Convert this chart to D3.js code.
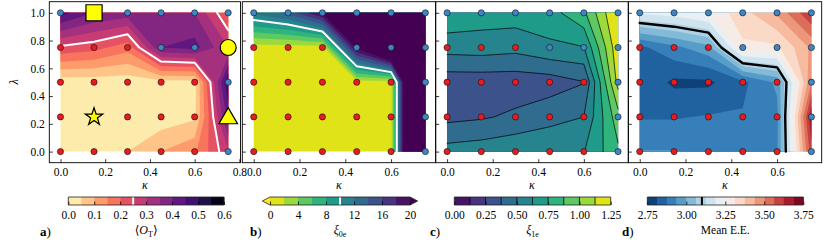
<!DOCTYPE html>
<html><head><meta charset="utf-8">
<script src="https://cdn.jsdelivr.net/npm/d3@7/dist/d3.min.js"></script>
<style>
body{margin:0;background:#fff}
svg{display:block}
text{font-family:"Liberation Serif","DejaVu Serif",serif;fill:#000}
</style></head><body>
<svg id="chart" width="830" height="244"></svg>
<script>
// ---------------- data ----------------
const kappa = [0, 0.15, 0.3, 0.45, 0.6, 0.75];
const lambda = [0, 0.25, 0.5, 0.75, 1.0];
// rows: lambda = 0, 0.25, 0.5, 0.75, 1.0 ; columns: kappa
const meanOT = [
  [0.00, 0.00, 0.05, 0.10, 0.14, 0.29],
  [0.00, 0.00, 0.00, 0.02, 0.04, 0.42],
  [0.02, 0.02, 0.02, 0.03, 0.03, 0.50],
  [0.24, 0.22, 0.17, 0.40, 0.42, 0.30],
  [0.47, 0.40, 0.38, 0.36, 0.35, 0.20]
];
const xi0e = [
  [1, 1, 1, 1, 1, 55],
  [1, 1, 1, 1, 1, 55],
  [1, 1, 1, 1, 1, 55],
  [1, 1, 1, 20.7, 32, 50],
  [12.4, 14.6, 20.5, 40, 50, 55]
];
const xi1e = [
  [0.55, 0.57, 0.60, 0.60, 0.62, 0.85],
  [0.34, 0.36, 0.40, 0.46, 0.50, 0.95],
  [0.30, 0.30, 0.30, 0.31, 0.37, 1.17],
  [0.55, 0.56, 0.54, 0.60, 0.62, 1.22],
  [0.73, 0.69, 0.69, 0.70, 0.85, 1.28]
];
const meanEE = [
  [2.94, 2.94, 2.93, 2.92, 2.93, 3.60],
  [2.87, 2.87, 2.88, 2.88, 2.92, 3.68],
  [2.86, 2.80, 2.80, 2.86, 2.95, 3.50],
  [2.86, 2.92, 2.98, 3.30, 3.30, 3.45],
  [3.20, 3.22, 3.26, 3.35, 3.45, 3.62]
];
const pointClass = [
  ['r','r','r','r','r','b'],
  ['r','r','r','r','r','b'],
  ['r','r','r','r','r','b'],
  ['r','r','r','b','b','b'],
  ['b','b','b','b','b','b']
];
const markerKappa  = [0.15, 0.15, 0.75, 0.75];
const markerLambda = [0.25, 1.0, 0.75, 0.25];
const markerShape  = ['star', 'square', 'circle', 'triangle'];

const levelsOT  = [0, 0.05, 0.1, 0.15, 0.2, 0.25, 0.3, 0.35, 0.4, 0.45, 0.5, 0.55, 0.6];
const levelsXi0 = [0, 2, 4, 6, 8, 10, 12, 14, 16, 18, 20];
const levelsXi1 = [0, 0.125, 0.25, 0.375, 0.5, 0.625, 0.75, 0.875, 1.0, 1.125, 1.25];
const levelsEE  = [2.75, 2.8125, 2.875, 2.9375, 3.0, 3.0625, 3.125, 3.1875, 3.25,
                   3.3125, 3.375, 3.4375, 3.5, 3.5625, 3.625, 3.6875, 3.75];
const ticksOT  = [0, 0.1, 0.2, 0.3, 0.4, 0.5, 0.6];
const ticksXi0 = [0, 4, 8, 12, 16, 20];
const ticksXi1 = [0, 0.25, 0.5, 0.75, 1.0, 1.25];
const ticksEE  = [2.75, 3.0, 3.25, 3.5, 3.75];
const ticksKappaA = [0, 0.2, 0.4, 0.6, 0.8];
const ticksKappa  = [0, 0.2, 0.4, 0.6];
const ticksLambda = [0, 0.2, 0.4, 0.6, 0.8, 1.0];

// ---------------- drawing ----------------
const svg = d3.select('#chart');
const FONT = '"Liberation Serif","DejaVu Serif",serif';
const Y0 = 162.7, Y1 = 1.7;
const y = d3.scaleLinear().domain([-0.08, 1.08]).range([Y0, Y1]);
const n = kappa.length, m = lambda.length;
const ui = d3.scaleLinear().domain(d3.range(n)).range(kappa);
const vj = d3.scaleLinear().domain(d3.range(m)).range(lambda);
const cu = u => Math.max(0, Math.min(n - 1, u - 0.5));
const cv = v => Math.max(0, Math.min(m - 1, v - 0.5));
const RED = '#ea1a1f', BLUE = '#3f86c6';

function flatten(vals) { const f = []; for (let j = 0; j < m; j++) for (let i = 0; i < n; i++) f.push(vals[j][i]); return f; }

function isoPath(flat, level, x) {
  const c = d3.contours().size([n, m]).contour(flat, level);
  const P = p => [x(ui(p[0])), y(vj(p[1]))];
  let d = '';
  for (const poly of c.coordinates) for (const ring of poly) {
    const pts = ring.map(([px, py]) => [cu(px), cv(py)]);
    const L = pts.length - 1;
    const border = [];
    for (let k = 0; k < L; k++) {
      const a = pts[k], b = pts[k + 1];
      border.push((a[0] === 0 && b[0] === 0) || (a[0] === n - 1 && b[0] === n - 1) ||
                  (a[1] === 0 && b[1] === 0) || (a[1] === m - 1 && b[1] === m - 1));
    }
    let s = border.indexOf(true);
    if (s < 0) {
      d += 'M' + pts.slice(0, L).map(p => P(p).join(',')).join('L') + 'Z';
      continue;
    }
    let cur = [];
    for (let t = 1; t <= L; t++) {
      const k = (s + t) % L;
      if (border[k]) { if (cur.length > 1) d += 'M' + cur.map(p => P(p).join(',')).join('L'); cur = []; }
      else { if (!cur.length) cur.push(pts[k]); cur.push(pts[k + 1]); }
    }
    if (cur.length > 1) d += 'M' + cur.map(p => P(p).join(',')).join('L');
  }
  return d;
}

function styleAxis(a) {
  a.attr('font-family', null).attr('font-size', null);
  a.select('.domain').remove();
  a.selectAll('line').attr('stroke-width', 0.8);
  a.selectAll('text').style('font-size', '11.5px').style('font-family', FONT);
}

function panel(cfg) {
  const x = d3.scaleLinear().domain(cfg.dom).range([cfg.x0, cfg.x1]);
  const g = svg.append('g');
  const flat = flatten(cfg.vals);
  const proj = d3.geoTransform({ point(px, py) { this.stream.point(x(ui(cu(px))), y(vj(cv(py)))); } });
  const path = d3.geoPath(proj);
  const cs = d3.contours().size([n, m]).thresholds(cfg.thresholds)(flat);
  g.append('g').selectAll('path').data(cs).join('path')
    .attr('d', path).attr('fill', (d, k) => cfg.colors[k]);
  for (const ln of cfg.lines) {
    g.append('path').attr('d', isoPath(flat, ln.v, x)).attr('fill', 'none')
      .attr('stroke', ln.c).attr('stroke-width', ln.w).attr('stroke-linejoin', 'round').attr('stroke-linecap', 'round');
  }
  // axes (inward ticks)
  const ax = g.append('g').attr('transform', `translate(0,${Y0})`)
    .call(d3.axisBottom(x).tickValues(cfg.xticks).tickFormat(d3.format('.1f')).tickSizeInner(-3.5).tickSizeOuter(0).tickPadding(5.5));
  styleAxis(ax);
  const ay = g.append('g').attr('transform', `translate(${cfg.x0},0)`)
    .call(d3.axisLeft(y).tickValues(ticksLambda).tickFormat(d3.format('.1f')).tickSizeInner(-3.5).tickSizeOuter(0).tickPadding(4.5));
  styleAxis(ay);
  if (!cfg.ylabels) ay.selectAll('text').remove();
  g.append('rect').attr('x', cfg.x0).attr('y', Y1).attr('width', cfg.x1 - cfg.x0).attr('height', Y0 - Y1)
    .attr('fill', 'none').attr('stroke', '#000').attr('stroke-width', 0.9);
  g.append('text').attr('x', (cfg.x0 + cfg.x1) / 2).attr('y', 189).attr('text-anchor', 'middle')
    .style('font-size', '12px').style('font-style', 'italic').text('κ');
  // points
  const pts = [];
  for (let j = 0; j < m; j++) for (let i = 0; i < n; i++) pts.push({ k: kappa[i], l: lambda[j], c: pointClass[j][i] });
  g.append('g').selectAll('circle').data(pts).join('circle')
    .attr('cx', d => x(d.k)).attr('cy', d => y(d.l)).attr('r', 3.1)
    .attr('fill', d => d.c === 'r' ? RED : BLUE).attr('stroke', '#111').attr('stroke-width', 0.6);
  return { g, x };
}

function colorbar(cfg) {
  const yb0 = 197, yb1 = 205;
  const s = d3.scaleLinear().domain([cfg.levels[0], cfg.levels[cfg.levels.length - 1]]).range([cfg.x0, cfg.x1]);
  const g = svg.append('g');
  const bins = d3.range(cfg.levels.length - 1);
  g.selectAll('rect.bin').data(bins).join('rect')
    .attr('x', i => s(cfg.levels[i])).attr('width', i => s(cfg.levels[i + 1]) - s(cfg.levels[i]) + 0.3)
    .attr('y', yb0).attr('height', yb1 - yb0).attr('fill', i => cfg.colors[i]);
  let outline;
  if (cfg.extend) {
    const e = (cfg.x1 - cfg.x0) * 0.055;
    g.append('path').attr('d', `M${cfg.x0},${yb0}L${cfg.x0 - e},${(yb0 + yb1) / 2}L${cfg.x0},${yb1}Z`).attr('fill', cfg.under);
    g.append('path').attr('d', `M${cfg.x1},${yb0}L${cfg.x1 + e},${(yb0 + yb1) / 2}L${cfg.x1},${yb1}Z`).attr('fill', cfg.over);
    outline = `M${cfg.x0},${yb0}L${cfg.x1},${yb0}L${cfg.x1 + e},${(yb0 + yb1) / 2}L${cfg.x1},${yb1}L${cfg.x0},${yb1}L${cfg.x0 - e},${(yb0 + yb1) / 2}Z`;
  } else {
    outline = `M${cfg.x0},${yb0}H${cfg.x1}V${yb1}H${cfg.x0}Z`;
  }
  for (const ln of cfg.lines) {
    for (const v of ln.v) {
      g.append('line').attr('x1', s(v)).attr('x2', s(v)).attr('y1', yb0).attr('y2', yb1)
        .attr('stroke', ln.c).attr('stroke-width', ln.w);
    }
  }
  const ax = g.append('g').attr('transform', `translate(0,${yb1})`)
    .call(d3.axisBottom(s).tickValues(cfg.ticks).tickFormat(cfg.fmt).tickSizeInner(-3.5).tickSizeOuter(0).tickPadding(5.5));
  styleAxis(ax);
  g.append('path').attr('d', outline).attr('fill', 'none').attr('stroke', '#222').attr('stroke-width', 0.8);
  return { g, cx: (cfg.x0 + cfg.x1) / 2 };
}

// colours
const colOT  = d3.range(levelsOT.length - 1).map(i => d3.interpolateMagma(1 - (i + 0.5) / (levelsOT.length - 1)));
const colXi0 = d3.range(levelsXi0.length - 1).map(i => d3.interpolateViridis(1 - (i + 0.5) / (levelsXi0.length - 1)));
const overXi0 = d3.interpolateViridis(0), underXi0 = d3.interpolateViridis(1);
const colXi1 = d3.range(levelsXi1.length - 1).map(i => d3.interpolateViridis((i + 0.5) / (levelsXi1.length - 1)));
const colEE  = d3.range(levelsEE.length - 1).map(i => d3.interpolateRdBu(1 - (i + 0.5) / (levelsEE.length - 1)));

// panel a
const pa = panel({ x0: 49.3, x1: 240.5, dom: [-0.05, 0.805], vals: meanOT, thresholds: levelsOT.slice(0, -1), colors: colOT,
  lines: [{ v: 0.25, c: '#fff', w: 2 }], xticks: ticksKappaA, ylabels: true });
// markers
const sym = { star: d3.symbolStar, square: d3.symbolSquare, circle: d3.symbolCircle, triangle: d3.symbolTriangle };
const symSize = { star: 95, square: 260, circle: 200, triangle: 150 };
pa.g.append('g').selectAll('path').data(markerShape).join('path')
  .attr('transform', (d, i) => `translate(${pa.x(markerKappa[i])},${y(markerLambda[i]) + (d === 'triangle' ? 1.5 : 0)})`)
  .attr('d', d => d3.symbol(sym[d], symSize[d])())
  .attr('fill', '#ffff00').attr('stroke', '#000').attr('stroke-width', 1.2);

panel({ x0: 242.3, x1: 435.7, dom: [-0.05, 0.795], vals: xi0e, thresholds: levelsXi0, colors: colXi0.concat([overXi0]),
  lines: [{ v: 10, c: '#fff', w: 2 }], xticks: ticksKappa });
panel({ x0: 435.7, x1: 628.3, dom: [-0.05, 0.795], vals: xi1e, thresholds: levelsXi1.slice(0, -1), colors: colXi1,
  lines: levelsXi1.slice(1, -1).map(v => ({ v, c: '#000', w: 0.7 })), xticks: ticksKappa });
panel({ x0: 628.3, x1: 821.7, dom: [-0.05, 0.795], vals: meanEE, thresholds: levelsEE.slice(0, -1), colors: colEE,
  lines: [{ v: 3.1, c: '#000', w: 2.4 }], xticks: ticksKappa });

// y label
svg.append('text').attr('transform', 'translate(18,82) rotate(-90)').attr('text-anchor', 'middle')
  .style('font-size', '12px').style('font-style', 'italic').text('λ');

// colorbars
const cba = colorbar({ x0: 68.3, x1: 224, levels: levelsOT, colors: colOT, ticks: ticksOT, fmt: d3.format('.1f'),
  lines: [{ v: [0.25], c: '#fff', w: 2 }] });
const cbb = colorbar({ x0: 270, x1: 410, levels: levelsXi0, colors: colXi0, ticks: ticksXi0, fmt: d3.format('d'),
  extend: true, under: underXi0, over: overXi0, lines: [{ v: [10], c: '#fff', w: 2 }] });
const cbc = colorbar({ x0: 454.3, x1: 610.7, levels: levelsXi1, colors: colXi1, ticks: ticksXi1, fmt: d3.format('.2f'),
  lines: [{ v: levelsXi1.slice(1, -1), c: '#000', w: 0.8 }] });
const cbd = colorbar({ x0: 647.3, x1: 803.3, levels: levelsEE, colors: colEE, ticks: ticksEE, fmt: d3.format('.2f'),
  lines: [{ v: [3.1], c: '#000', w: 2 }] });

function subLabel(cx, base, sub, pre, post) {
  const t = svg.append('text').attr('x', cx).attr('y', 234).attr('text-anchor', 'middle').style('font-size', '12px');
  if (pre) t.append('tspan').text(pre);
  t.append('tspan').style('font-style', 'italic').text(base);
  t.append('tspan').attr('dy', 2.5).style('font-size', '8px').text(sub);
  if (post) t.append('tspan').attr('dy', -2.5).text(post);
}
subLabel(cba.cx, 'O', 'T', '⟨', '⟩');
subLabel(cbb.cx, 'ξ', '0e');
subLabel(cbc.cx, 'ξ', '1e');
svg.append('text').attr('x', cbd.cx).attr('y', 234).attr('text-anchor', 'middle').style('font-size', '11.5px').text('Mean E.E.');

// panel letters
[['a', 40], ['b', 250], ['c', 430], ['d', 622]].forEach(([l, px]) => {
  const t = svg.append('text').attr('x', px).attr('y', 236).style('font-size', '13px');
  t.append('tspan').style('font-weight', 'bold').text(l);
  t.append('tspan').text(')');
});
</script></body></html>
